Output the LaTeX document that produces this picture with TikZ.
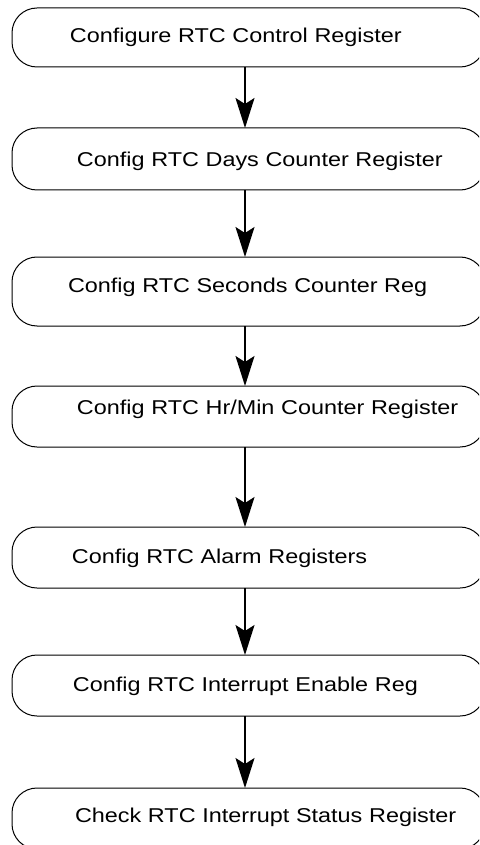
\documentclass[tikz,border=0pt]{standalone}
\usepackage{fontspec}
\setmainfont{Liberation Sans}[FakeStretch=1.17]
\usetikzlibrary{arrows.meta,positioning}

\begin{document}
\begin{tikzpicture}[
  stepbox/.style={rectangle, draw, line width=0.5pt, rounded corners=12.5pt,
    minimum width=236.5pt, text width=216pt, inner xsep=0pt, inner ysep=2pt,
    outer sep=0pt, align=left, text height=7.5pt, text depth=2pt,
    font=\fontsize{10}{12}\selectfont, execute at begin node={\hspace*{#1}}},
  stepbox/.default=20.25pt,
  arr/.style={-{Stealth[length=15pt, width=9.5pt, inset=3pt]}, line width=0.8pt}
]
  \useasboundingbox (0,0) rectangle (239.5pt,-422.5pt);
  \clip (0,0) rectangle (239.5pt,-422.5pt);

  \node[stepbox=18.75pt, minimum height=29.5pt, anchor=north west] (ctrl) at (6pt,-4pt) {Configure RTC Control Register};
  \node[stepbox=22.25pt, minimum height=31pt, text height=9.5pt, below=30.5pt of ctrl] (days) {Config RTC Days Counter Register};
  \node[stepbox=17.75pt, minimum height=34.5pt, text depth=6.5pt, below=33.5pt of days] (secs) {Config RTC Seconds Counter Reg};
  \node[stepbox=22.25pt, minimum height=30.5pt, text depth=10pt, below=30pt of secs] (hrmin) {Config RTC Hr/Min Counter Register};
  \node[stepbox=19.75pt, minimum height=30.5pt, below=40pt of hrmin] (alarm) {Config RTC Alarm Registers};
  \node[stepbox, minimum height=30.5pt, below=33.5pt of alarm] (inten) {Config RTC Interrupt Enable Reg};
  \node[stepbox=21.25pt, minimum height=30.5pt, text depth=4pt, below=36pt of inten] (status) {Check RTC Interrupt Status Register};

  \foreach \a/\b in {ctrl/days, days/secs, secs/hrmin, hrmin/alarm, alarm/inten, inten/status}
    \draw[arr] ([xshift=-1.75pt]\a.south) -- ([xshift=-1.75pt]\b.north);
\end{tikzpicture}
\end{document}
